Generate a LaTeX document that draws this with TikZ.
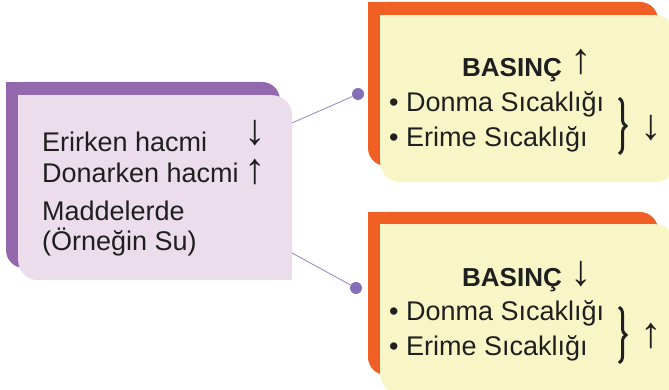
\documentclass[tikz,border=0pt]{standalone}
\usepackage{fontspec}
\setmainfont{Liberation Sans}
\usetikzlibrary{positioning,decorations.pathreplacing}
\definecolor{mor}{RGB}{148,104,172}
\definecolor{morack}{RGB}{236,221,237}
\definecolor{turuncu}{RGB}{240,96,36}
\definecolor{krem}{RGB}{248,246,199}
\definecolor{nokta}{RGB}{132,110,184}
\definecolor{cizgi}{RGB}{150,130,200}
\tikzset{
  yazi/.style  ={font=\fontsize{27}{30}\selectfont, inner sep=0pt, anchor=base west, text=black!88},
  kalin/.style ={yazi, font=\fontsize{26}{30}\selectfont\bfseries, anchor=base},
  ok/.style    ={yazi, font=\fontsize{43}{46}\selectfont, anchor=center},
  arka/.style  ={rounded corners=18pt},
  on/.style    ={rounded corners=20pt, inner sep=0pt, anchor=north west},
  dot/.style   ={circle, fill=nokta, inner sep=0pt, minimum size=12pt},
  bag/.style   ={draw=cizgi, line width=0.8pt},
  kume/.style  ={draw=black!88, line width=3pt, decorate,
                 decoration={brace, amplitude=7pt}}
}

\begin{document}
\begin{tikzpicture}[x=1pt, y=-1pt]
  \useasboundingbox (0,0) rectangle (669,390);

  % sol kutu
  \fill[mor, arka] (6,82) rectangle (280,268);
  \fill[mor] (6,82) rectangle ++(18,18);
  \node[on, fill=morack, minimum width=274pt, minimum height=185pt] (sol) at (18,95) {};
  \fill[morack] (sol.north west) rectangle ++(20,20);
  \fill[morack] (sol.south east) rectangle ++(-20,-20);
  \node[yazi] (s1) at (42,152) {Erirken hacmi};
  \node[yazi] (s2) at (42,183) {Donarken hacmi};
  \node[yazi] (s3) at (42,220) {Maddelerde};
  \node[yazi] (s4) at (42,251) {(Örneğin Su)};
  \node[ok] (s1ok) at (255,133) {↓};
  \node[ok] (s2ok) at (255,172) {↑};

  % ust kutu
  \fill[turuncu, arka] (368,2) rectangle (658,166);
  \fill[turuncu] (368,2) rectangle ++(18,18);
  \node[on, fill=krem, minimum width=295pt, minimum height=167pt] (ust) at (380,15) {};
  \fill[krem] (ust.north west) rectangle ++(20,20);
  \node[kalin] (u1) at (512,77) {BASINÇ};
  \node[ok] (u1ok) at (581,62) {↑};
  \node[yazi] (u2) at (389,112) {• Donma Sıcaklığı};
  \node[yazi] (u3) at (389,147) {• Erime Sıcaklığı};
  \coordinate (ub1) at (619,98);
  \coordinate (ub2) at (619,154);
  \draw[kume] (ub1) -- (ub2);
  \node[ok] (u3ok) at (651,128) {↓};

  % alt kutu
  \fill[turuncu, arka] (368,212) rectangle (658,375);
  \fill[turuncu] (368,212) rectangle ++(18,18);
  \node[on, fill=krem, minimum width=295pt, minimum height=170pt] (alt) at (380,224) {};
  \fill[krem] (alt.north west) rectangle ++(20,20);
  \fill[krem] (alt.south east) rectangle ++(-20,-20);
  \node[kalin] (a1) at (512,286) {BASINÇ};
  \node[ok] (a1ok) at (581,274) {↓};
  \node[yazi] (a2) at (389,320) {• Donma Sıcaklığı};
  \node[yazi] (a3) at (389,355) {• Erime Sıcaklığı};
  \coordinate (ab1) at (619,307);
  \coordinate (ab2) at (619,363);
  \draw[kume] (ab1) -- (ab2);
  \node[ok] (a3ok) at (651,336) {↑};

  % baglantilar
  \node[dot] (d1) at (358,94) {};
  \node[dot] (d2) at (356,288) {};
  \coordinate (c1) at (292,123);
  \coordinate (c2) at (292,253);
  \draw[bag] (c1) -- (d1);
  \draw[bag] (c2) -- (d2);
\end{tikzpicture}
\end{document}
